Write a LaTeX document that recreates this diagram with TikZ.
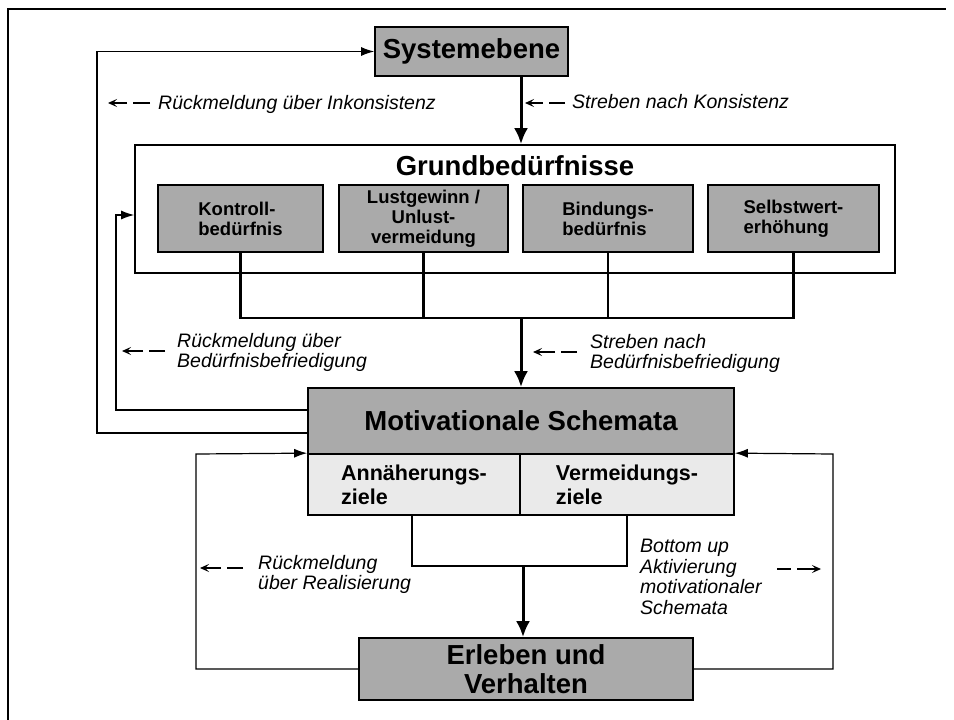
\documentclass[tikz,border=0pt]{standalone}
\usepackage{fontspec}
\setmainfont{Liberation Sans}
\usetikzlibrary{arrows.meta}

\definecolor{boxgray}{HTML}{AAAAAA}
\definecolor{goalgray}{HTML}{EAEAEA}

\newcommand{\fTitle}{\fontsize{27.5}{29}\selectfont\bfseries}
\newcommand{\fNeed}{\fontsize{18.5}{20}\selectfont\bfseries}
\newcommand{\fGoal}{\fontsize{21.5}{24}\selectfont\bfseries}
\newcommand{\fNote}{\fontsize{19.5}{20.5}\selectfont\itshape}

\begin{document}
\begin{tikzpicture}[x=1pt,y=-1pt,
  box/.style={draw, line width=1.7pt, fill=boxgray, inner sep=0pt, align=center},
  goal/.style={draw, line width=1.7pt, fill=goalgray, inner sep=0pt, align=left, font=\fGoal},
  need/.style={box, font=\fNeed, minimum height=67pt},
  note/.style={anchor=north west, inner sep=0pt, align=left, font=\fNote},
  thin/.style={line width=1.2pt},
  feed/.style={line width=1.2pt, -{Latex[length=13pt,width=9pt]}},
  mid/.style={line width=2.2pt},
  flow/.style={line width=3pt, -{Latex[length=16pt,width=14pt]}},
  hint/.style={line width=1.4pt, -{Stealth[length=9pt,width=8pt,inset=4pt]}}
]
\useasboundingbox (0,0) rectangle (954,720);

% frame
\draw[line width=2.4pt] (8,720) -- (8,9) -- (946,9);

% boxes
\node[box, font=\fTitle, minimum width=193pt, minimum height=49pt] (sys) at (471.5,51.5) {Systemebene};

\node[draw, line width=1.7pt, fill=white, minimum width=760pt, minimum height=128pt, inner sep=0pt] (grund) at (515,209) {};
\node[font=\fTitle, inner sep=0pt] (grundtitle) at (515,166) {Grundbedürfnisse};

\node[need, minimum width=165pt, align=left] (kon)  at (240.5,218.5) {Kontroll-\\bedürfnis};
\node[need, minimum width=169pt]             (lust) at (423.5,218.5) {Lustgewinn /\\Unlust-\\vermeidung};
\node[need, minimum width=170pt, align=left] (bind) at (608,218.5)   {Bindungs-\\bedürfnis};
\node[need, minimum width=171pt, align=left] (selb) at (793.5,218.5) {Selbstwert-\\erhöhung};

\node[box, font=\fTitle, minimum width=426pt, minimum height=66pt] (mot) at (521,421) {Motivationale Schemata};
\node[goal, minimum width=212pt, minimum height=61pt] (ann) at (414,484.5) {Annäherungs-\\ziele};
\node[goal, minimum width=214pt, minimum height=61pt] (ver) at (627,484.5) {Vermeidungs-\\ziele};

\node[box, font=\fTitle, minimum width=334pt, minimum height=62pt] (erl) at (526,669) {Erleben und\\Verhalten};

% needs joined into one flow
\coordinate (join) at (521,318);
\draw[mid] (kon.south) -- (kon.south |- join) -- (selb.south |- join) -- (selb.south);
\draw[mid] (lust.south) -- (lust.south |- join);
\draw[mid] (bind.south) -- (bind.south |- join);
\draw[flow] (join) -- (join |- mot.north);

% system level to basic needs
\coordinate (sysout) at (521,76);
\draw[flow] (sysout) -- (sysout |- grund.north);

% feedback loops on the left
\coordinate (fbA) at (308,433);
\coordinate (fbB) at (308,410);
\draw[feed] (fbA) -- (97,433) -- (97,51.5) -- (sys.west);
\draw[feed] (fbB) -- (116,410) -- (116,215) -- (grund.west |- 0,215);

% goals to behaviour
\coordinate (gjoin) at (523,566);
\draw[thin] (412,515) -- (412,566) -- (627,566) -- (ver.south);
\draw[flow] (gjoin) -- (gjoin |- erl.north);

% loops between behaviour and schemata
\draw[feed] (erl.west) -- (196,669) -- (196,454) -- (ann.north west);
\draw[feed] (erl.east) -- (833,669) -- (833,454) -- (ver.north east);

% annotations
\draw[hint, dash pattern=on 17pt off 6pt on 40pt off 0pt] (150,103) -- (108,103);
\node[note] (n1) at (158,95.5) {Rückmeldung über Inkonsistenz};

\draw[hint, dash pattern=on 16pt off 6pt on 40pt off 0pt] (565,103) -- (525,103);
\node[note] (n2) at (572,94) {Streben nach Konsistenz};

\draw[hint, dash pattern=on 16pt off 6pt on 40pt off 0pt] (165,351) -- (122,351);
\node[note] (n3) at (177,333) {Rückmeldung über\\Bedürfnisbefriedigung};

\draw[hint, dash pattern=on 16pt off 6pt on 40pt off 0pt] (577,352) -- (533,352);
\node[note] (n4) at (590,334) {Streben nach\\Bedürfnisbefriedigung};

\draw[hint, dash pattern=on 16pt off 6pt on 40pt off 0pt] (243,568) -- (200,568);
\node[note] (n5) at (258,555) {Rückmeldung\\über Realisierung};

\draw[hint, dash pattern=on 14pt off 6pt on 40pt off 0pt] (777,569) -- (821,569);
\node[note] (n6) at (640,539) {Bottom up\\Aktivierung\\motivationaler\\Schemata};
\end{tikzpicture}
\end{document}
